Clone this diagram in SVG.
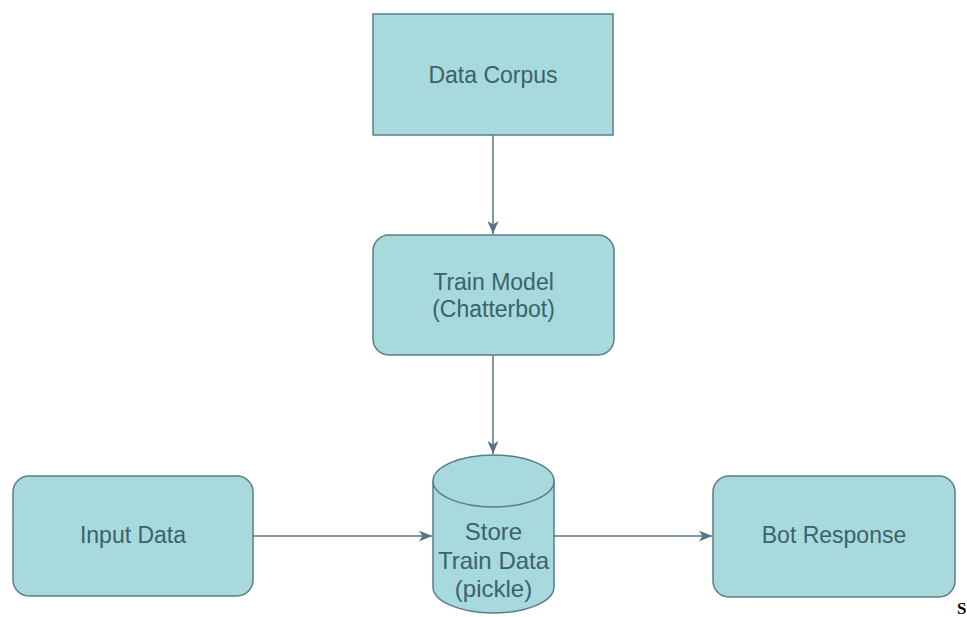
<svg xmlns="http://www.w3.org/2000/svg" width="967" height="617" viewBox="0 0 967 617">
<style>
.box{fill:#a8d9dc;stroke:#587e88;stroke-width:1.5}
.lbl{font-family:"Liberation Sans",Arial,sans-serif;font-size:23px;fill:#3a636c;text-anchor:middle}
.cyl{font-size:24px}
.conn{stroke:#587484;stroke-width:1.5;fill:none}
</style>
<defs>
<marker id="arr" viewBox="0 0 13 11" refX="13" refY="5.5" markerWidth="13" markerHeight="11" markerUnits="userSpaceOnUse" orient="auto">
<path d="M0,0 L13,5.5 L0,11 L3.5,5.5 Z" fill="#587484"/>
</marker>
</defs>
<rect width="967" height="617" fill="#ffffff"/>
<g id="connectors">
<line class="conn" x1="493" y1="135" x2="493" y2="234" marker-end="url(#arr)"/>
<line class="conn" x1="493" y1="355" x2="493" y2="454" marker-end="url(#arr)"/>
<line class="conn" x1="253" y1="536" x2="432" y2="536" marker-end="url(#arr)"/>
<line class="conn" x1="554" y1="536" x2="712" y2="536" marker-end="url(#arr)"/>
</g>
<g id="data-corpus">
<rect class="box" x="373" y="14" width="240" height="121"/>
<text class="lbl" x="493" y="83">Data Corpus</text>
</g>
<g id="train-model">
<rect class="box" x="373" y="235" width="241" height="120" rx="16"/>
<text class="lbl" x="493.5" y="290">Train Model</text>
<text class="lbl" x="493.5" y="317">(Chatterbot)</text>
</g>
<g id="store-train-data">
<path class="box" d="M433,481 A60.5,26 0 0 1 554,481 L554,587 A60.5,26 0 0 1 433,587 Z"/>
<path class="box" style="fill:none" d="M433,481 A60.5,26 0 0 0 554,481"/>
<text class="lbl cyl" x="493.5" y="540">Store</text>
<text class="lbl cyl" x="493.5" y="569">Train Data</text>
<text class="lbl cyl" x="493.5" y="597">(pickle)</text>
</g>
<g id="input-data">
<rect class="box" x="13" y="476" width="240" height="120" rx="16"/>
<text class="lbl" x="133" y="543">Input Data</text>
</g>
<g id="bot-response">
<rect class="box" x="713" y="476" width="242" height="121" rx="16"/>
<text class="lbl" x="834" y="543">Bot Response</text>
</g>
<text x="957" y="614" font-family="Liberation Serif,'Times New Roman',serif" font-size="17" font-weight="bold" fill="#000">S</text>
</svg>
